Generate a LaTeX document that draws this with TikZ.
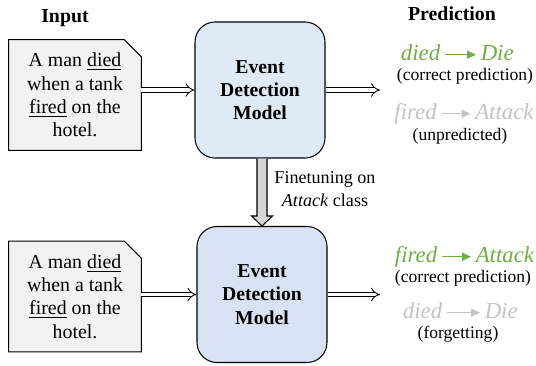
\documentclass[tikz,border=0pt]{standalone}
\usepackage{fontspec}
\setmainfont{Liberation Serif}
\usepackage{tikz}
\usetikzlibrary{arrows.meta,positioning,backgrounds}

\definecolor{predgreen}{HTML}{70AD47}
\definecolor{predgray}{HTML}{C3C3C3}
\definecolor{inputfill}{HTML}{F2F2F2}
\definecolor{modelblue}{HTML}{DEEBF7}
\definecolor{modelviolet}{HTML}{D9E2F3}
\definecolor{tunefill}{HTML}{D6D6D6}

\begin{document}
\begin{tikzpicture}[x=0.02cm,y=0.02cm]
	\tikzstyle{every node}+=[font=\fontsize{10}{12.5}\selectfont]
	\tikzstyle{heading}=[font=\fontsize{11.3}{13}\selectfont\bfseries,anchor=base]
	\tikzstyle{sentence}=[minimum width=2.64cm,minimum height=2.2cm,align=center,inner sep=0pt,font=\fontsize{11.3}{13.2}\selectfont]
	\tikzstyle{model}=[draw,line width=0.6pt,rounded corners=0.4cm,minimum width=2.6cm,minimum height=2.72cm,align=center,font=\fontsize{11.2}{13.2}\selectfont\bfseries]
	\tikzstyle{feed}=[double,double distance=2.2pt,line width=0.5pt,-{Implies}]
	\tikzstyle{pred}=[font=\fontsize{13}{15}\selectfont\itshape,text height=0.75em,text depth=0.15em,inner sep=2.5pt]
	\tikzstyle{predarrow}=[line width=0.7pt,-{Triangle[length=5pt,width=4.5pt]}]
	\useasboundingbox (0,0) rectangle (536,-365);

	% column headings
	\node[heading] (intitle) at (65,-22) {Input};
	\node[heading] (predtitle) at (452,-20) {Prediction};

	% input sentences
	\node[sentence] (s1) at (75,-95) {A man \underline{died}\\when a tank\\\underline{fired} on the\\hotel.};
	\node[sentence] (s2) at (75,-296.5) {A man \underline{died}\\when a tank\\\underline{fired} on the\\hotel.};
	\begin{scope}[on background layer]
		\foreach \s in {s1,s2}
			\filldraw[fill=inputfill,line width=0.6pt] (\s.north west) -- ([xshift=-0.34cm]\s.north east) -- ([yshift=-0.34cm]\s.north east) -- (\s.south east) -- (\s.south west) -- cycle;
	\end{scope}

	% models before and after finetuning
	\node[model,fill=modelblue] (m1) at (260,-90) {Event\\Detection\\Model};
	\node[model,fill=modelviolet] (m2) at (262,-294.5) {Event\\Detection\\Model};

	\coordinate (o1) at (380,-90);
	\coordinate (o2) at (380,-294.5);
	\draw[feed] (s1.east |- m1.west) -- (m1.west);
	\draw[feed] (s2.east |- m2.west) -- (m2.west);
	\draw[feed] (m1.east) -- (o1);
	\draw[feed] (m2.east) -- (o2);

	% finetuning step
	\coordinate (t0) at (m1.south -| m2.north);
	\coordinate (t1) at (m2.north);
	\filldraw[fill=tunefill,line width=0.6pt] ([xshift=-0.1cm]t0) -- ([xshift=-0.1cm,yshift=0.2cm]t1) -- ([xshift=-0.21cm,yshift=0.2cm]t1) -- (t1) -- ([xshift=0.21cm,yshift=0.2cm]t1) -- ([xshift=0.1cm,yshift=0.2cm]t1) -- ([xshift=0.1cm]t0);
	\node[align=center,font=\fontsize{10.3}{12.8}\selectfont] (tune) at (325,-189) {Finetuning on\\\textit{Attack} class};

	% predictions of the first model
	\node[pred,text=predgreen,anchor=base east] (p1a) at (445,-60) {died};
	\node[pred,text=predgreen,right=0.62cm of p1a] (p1b) {Die};
	\draw[predarrow,predgreen] (p1a) -- (p1b);
	\node[anchor=base] (p1c) at (465,-80) {(correct prediction)};
	\node[pred,text=predgray,anchor=base east] (p2a) at (441.5,-119) {fired};
	\node[pred,text=predgray,right=0.58cm of p2a] (p2b) {Attack};
	\draw[predarrow,predgray] (p2a) -- (p2b);
	\node[anchor=base] (p2c) at (460,-140) {(unpredicted)};

	% predictions after finetuning
	\node[pred,text=predgreen,anchor=base east] (p3a) at (442,-262) {fired};
	\node[pred,text=predgreen,right=0.58cm of p3a] (p3b) {Attack};
	\draw[predarrow,predgreen] (p3a) -- (p3b);
	\node[anchor=base] (p3c) at (463,-282) {(correct prediction)};
	\node[pred,text=predgray,anchor=base east] (p4a) at (447,-318) {died};
	\node[pred,text=predgray,right=0.66cm of p4a] (p4b) {Die};
	\draw[predarrow,predgray] (p4a) -- (p4b);
	\node[anchor=base] (p4c) at (458,-338) {(forgetting)};
\end{tikzpicture}
\end{document}
